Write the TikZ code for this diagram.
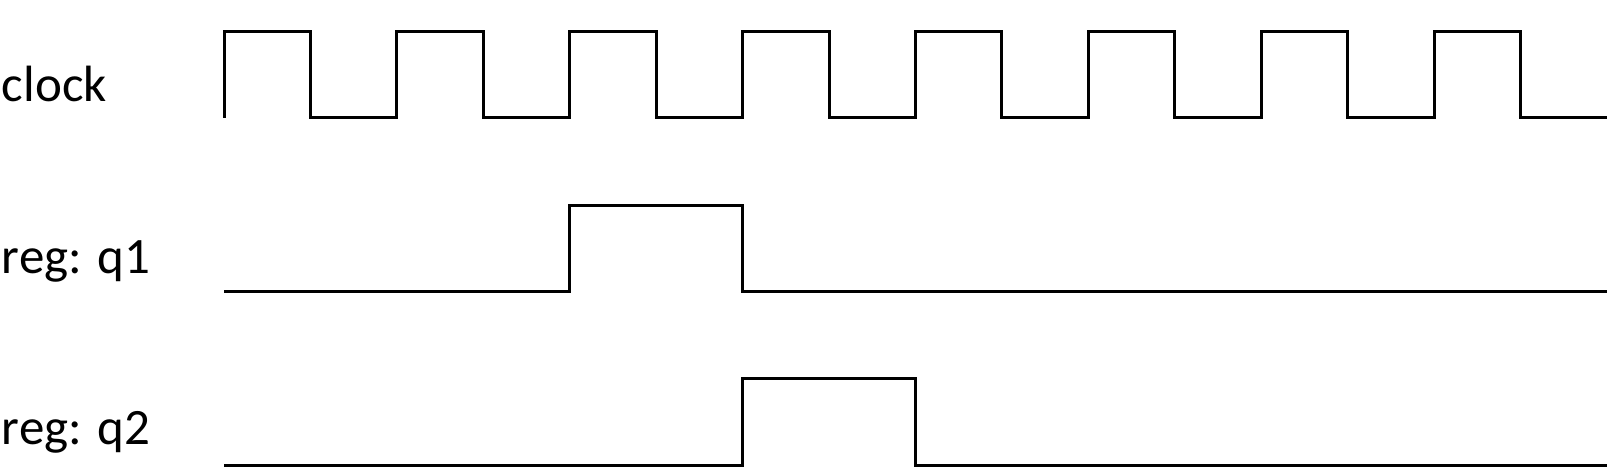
\documentclass[tikz,border=0pt]{standalone}
\usepackage{fontspec}
\setmainfont{Carlito}
\begin{document}
\begin{tikzpicture}[x=0.5pt,y=-0.5pt,
  wave/.style={line width=1.5pt,line join=miter},
  siglabel/.style={anchor=base west,inner sep=0pt,font=\fontsize{25.5pt}{30pt}\selectfont}]
\useasboundingbox (0,0) rectangle (1618,470);
\def\hp{86.44}
% labels
\node[siglabel] (lclk) at (1.5,101.7) {clock};
\node[siglabel] (lq1) at (1.5,273.3) {reg: q1};
\node[siglabel] (lq2) at (1.5,444.3) {reg: q2};
% clock
\draw[wave] (224,118) \foreach \i in {0,2,...,14} {
  -- ({224+\hp*\i},32) -- ({224+\hp*(\i+1)},32)
  -- ({224+\hp*(\i+1)},118) -- ({224+\hp*(\i+2)},118) };
% q1
\draw[wave] (224,291.7) -- ({224+\hp*4},291.7) -- ({224+\hp*4},205.7)
  -- ({224+\hp*6},205.7) -- ({224+\hp*6},291.7) -- (1607,291.7);
% q2
\draw[wave] (224,465) -- ({224+\hp*6},465) -- ({224+\hp*6},379)
  -- ({224+\hp*8},379) -- ({224+\hp*8},465) -- (1607,465);
\end{tikzpicture}
\end{document}
